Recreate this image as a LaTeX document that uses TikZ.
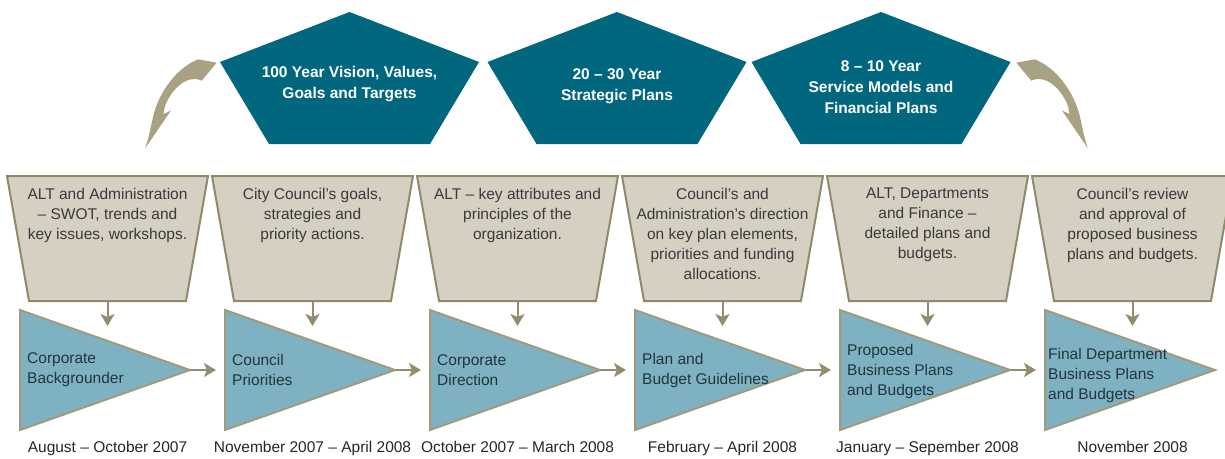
\documentclass[tikz,border=0pt]{standalone}
\usepackage{fontspec}
\setmainfont{Liberation Sans}
\usetikzlibrary{arrows.meta}

\definecolor{pentateal}{HTML}{00677F}
\definecolor{swooshtan}{HTML}{A8A283}
\definecolor{funnelfill}{HTML}{D5D0C2}
\definecolor{funneledge}{HTML}{8F8A6A}
\definecolor{wedgefill}{HTML}{7EB2C2}
\definecolor{wedgeedge}{HTML}{A19B7B}
\definecolor{flowtan}{HTML}{928D6E}
\definecolor{inkgrey}{HTML}{3A3A3A}
\definecolor{wedgeink}{HTML}{22343F}

\begin{document}
\begin{tikzpicture}[x=1pt,y=-1pt,
  pent/.style={fill=pentateal},
  penttext/.style={text=white,font=\fontsize{15.5}{21}\selectfont\bfseries,align=center,inner sep=0pt},
  funnel/.style={fill=funnelfill,draw=funneledge,line width=2pt,line join=miter},
  funneltext/.style={text=inkgrey,font=\fontsize{15.5}{20}\selectfont,align=center,anchor=north,inner sep=0pt},
  wedge/.style={fill=wedgefill,draw=wedgeedge,line width=2pt,line join=miter},
  wedgetext/.style={text=wedgeink,font=\fontsize{15.5}{20}\selectfont,align=left,anchor=west,inner sep=0pt},
  datetext/.style={text=black!85,font=\fontsize{15.5}{20}\selectfont,anchor=base,inner sep=0pt},
  flow/.style={draw=flowtan,line width=2pt,-{Stealth[length=12pt,width=14pt,inset=3pt]}},
  swoosh/.style={fill=swooshtan}
]
\useasboundingbox (0,0) rectangle (1225,458);

% curved arrows beside the pentagons
\def\swooshpath{(216.7,62.7) -- (201.7,80.7)
  .. controls (188,74) and (172,88) .. (165,106)
  -- (163.5,114) -- (171,110.5)
  -- (145,148.5)
  .. controls (149,138) and (151,125) .. (154,113)
  .. controls (160,92) and (176,68) .. (198.3,59.3)
  -- cycle}
\fill[swoosh] \swooshpath;
\begin{scope}[shift={(1233,0)},xscale=-1]
  \fill[swoosh] \swooshpath;
\end{scope}

% pentagons
\foreach \cx in {349.5,617,881}{
  \fill[pent] (\cx,12) -- (\cx+129.5,62) -- (\cx+80.5,144) -- (\cx-80.5,144) -- (\cx-129.5,62) -- cycle;
}
\node[penttext] (p1) at (349.5,84) {100 Year Vision, Values,\\Goals and Targets};
\node[penttext] (p2) at (617,86) {20 – 30 Year\\Strategic Plans};
\node[penttext] (p3) at (881,87) {8 – 10 Year\\Service Models and\\Financial Plans};

% funnels and wedges
\foreach \i in {1,...,6}{
  \pgfmathsetmacro\fx{7+205*(\i-1)}
  \pgfmathsetmacro\wx{\fx+13}
  \draw[funnel] (\fx,176) -- (\fx+201,176) -- (\fx+179,301) -- (\fx+22,301) -- cycle;
  \coordinate (ft\i) at (\fx+100.5,188);
  \coordinate (fb\i) at (\fx+100.5,301);
  \coordinate (wa\i) at (\fx+100.5,326);
  \draw[wedge] (\wx,310) -- (\wx+170,370) -- (\wx,430) -- cycle;
  \coordinate (wt\i) at (\wx+170,370);
  \coordinate (wi\i) at (\wx-9,370);
  \coordinate (wn\i) at (\wx+7,370);
  \coordinate (d\i) at (\fx+100.5,452);
}

% down connectors from funnels to wedges
\foreach \i in {1,...,6}{
  \draw[flow] (fb\i) -- (wa\i);
}
% connectors along the wedge row
\foreach \i in {1,...,5}{
  \pgfmathtruncatemacro\j{\i+1}
  \draw[flow] (wt\i) -- (wi\j);
}

% funnel texts
\node[funneltext] (f1) at (ft1) {ALT and Administration\\– SWOT, trends and\\key issues, workshops.};
\node[funneltext] (f2) at (ft2) {City Council’s goals,\\strategies and\\priority actions.};
\node[funneltext] (f3) at (ft3) {ALT – key attributes and\\principles of the\\organization.};
\node[funneltext] (f4) at (ft4) {Council’s and\\Administration’s direction\\on key plan elements,\\priorities and funding\\allocations.};
\node[funneltext] (f5) at (ft5) {ALT, Departments\\and Finance –\\detailed plans and\\budgets.};
\node[funneltext] (f6) at (ft6) {Council’s review\\and approval of\\proposed business\\plans and budgets.};

% wedge texts
\node[wedgetext] (w1) at (wn1) {Corporate\\Backgrounder};
\node[wedgetext] (w2) at (wn2) {Council\\Priorities};
\node[wedgetext] (w3) at (wn3) {Corporate\\Direction};
\node[wedgetext] (w4) at (wn4) {Plan and\\Budget Guidelines};
\node[wedgetext] (w5) at ([yshift=-1pt]wn5) {Proposed\\Business Plans\\and Budgets};
\node[wedgetext] (w6) at ([yshift=-5pt,xshift=-4pt]wn6) {Final Department\\Business Plans\\and Budgets};

% dates
\node[datetext] (d1t) at (d1) {August – October 2007};
\node[datetext] (d2t) at (d2) {November 2007 – April 2008};
\node[datetext] (d3t) at (d3) {October 2007 – March 2008};
\node[datetext] (d4t) at (d4) {February – April 2008};
\node[datetext] (d5t) at (d5) {January – Sepember 2008};
\node[datetext] (d6t) at (d6) {November 2008};
\end{tikzpicture}
\end{document}
